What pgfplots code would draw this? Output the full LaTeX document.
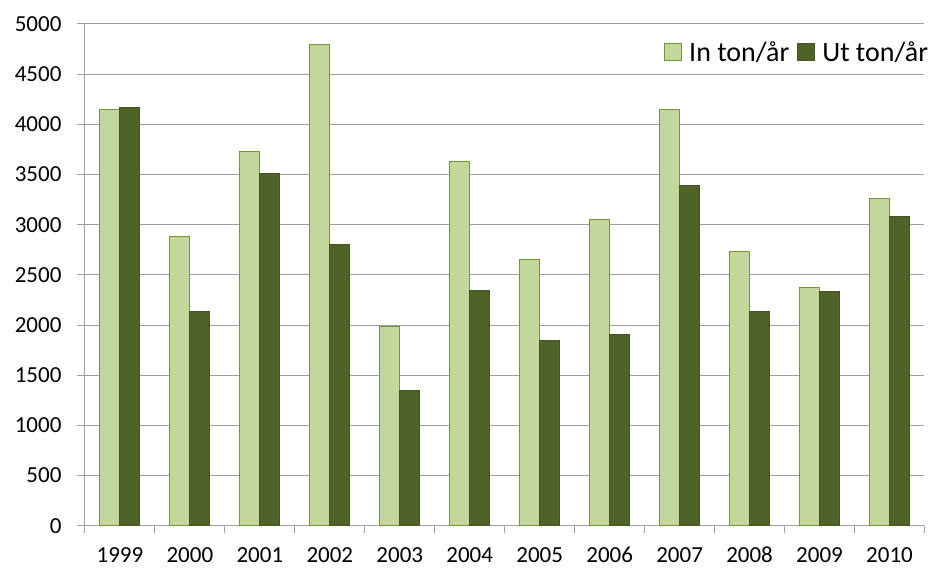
\documentclass[border=0pt]{standalone}
\usepackage{pgfplots}
\pgfplotsset{compat=1.18}
\usepackage{fontspec}
\setmainfont{Carlito}

\definecolor{inGreen}{HTML}{C3D69B}
\definecolor{inEdge}{HTML}{77933C}
\definecolor{utGreen}{HTML}{4F6228}
\definecolor{gridGray}{HTML}{A0A0A0}

\pgfplotstableread{
x year in  ut
0 1999 4150 4165
1 2000 2885 2130
2 2001 3730 3510
3 2002 4800 2800
4 2003 1985 1350
5 2004 3630 2345
6 2005 2655 1850
7 2006 3055 1910
8 2007 4145 3390
9 2008 2730 2130
10 2009 2375 2335
11 2010 3260 3080
}\flowdata

\begin{document}
\begin{tikzpicture}
\begin{axis}[
  scale only axis,
  width=840pt, height=502pt,
  ybar=0pt, bar width=20pt,
  xmin=-0.5, xmax=11.5,
  ymin=0, ymax=5000,
  ytick={0,500,...,5000},
  xtick=data,
  xticklabels={1999,2000,2001,2002,2003,2004,2005,2006,2007,2008,2009,2010},
  minor xtick={-0.5,0.5,...,11.5},
  major x tick style={draw=none},
  minor x tick style={draw=gridGray, line width=1pt},
  tick align=outside,
  minor tick length=7pt,
  major tick length=8pt,
  y tick style={draw=gridGray, line width=1pt},
  ymajorgrids,
  major grid style={draw=gridGray, line width=1pt},
  axis x line*=bottom,
  axis y line*=left,
  axis line style={draw=gridGray, line width=1pt, -},
  tick label style={font=\fontsize{23}{23}\selectfont, text=black},
  /pgf/number format/assume math mode=true,
  /pgf/number format/1000 sep={},
  yticklabel style={xshift=-12pt},
  xticklabel style={yshift=-10pt},
  legend style={
    at={(1.008,0.972)}, anchor=north east,
    draw=none, fill=none,
    font=\fontsize{28}{28}\selectfont,
    legend columns=2,
    /tikz/every odd column/.append style={column sep=5pt},
    /tikz/every even column/.append style={column sep=6pt},
    inner sep=1pt,
  },
  legend image code/.code={
    \draw[#1] (0pt,-8.5pt) rectangle (17pt,8.5pt);
  },
]
\addplot[fill=inGreen, draw=inEdge, line width=1pt] table[x=x, y=in] {\flowdata};
\addplot[fill=utGreen, draw=utGreen!85!black, line width=1pt] table[x=x, y=ut] {\flowdata};
\legend{In ton/år, Ut ton/år}
\end{axis}
\path (-85pt,-43pt) rectangle (846pt,526pt);
\end{tikzpicture}
\end{document}
